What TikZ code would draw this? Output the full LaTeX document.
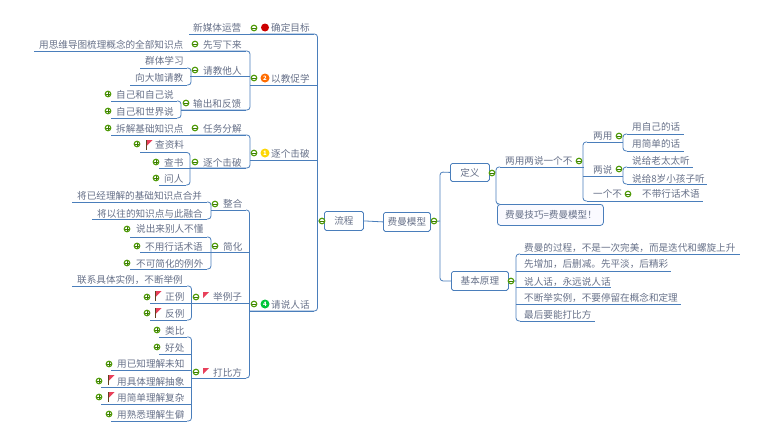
\documentclass[tikz,border=0pt]{standalone}
\usepackage{fontspec}
\setmainfont{Noto Sans CJK SC}
\definecolor{ln}{HTML}{4A7EBB}
\definecolor{tx}{HTML}{667088}
\definecolor{cg}{HTML}{4E9A06}
\definecolor{fl}{HTML}{E8405A}
\tikzset{
  conn/.style={draw=ln,line width=0.8pt,rounded corners=3pt},
  tlabel/.style={text=tx,font=\fontsize{9.6}{11}\selectfont,inner sep=0pt,anchor=west,yshift=-0.5pt},
  tbox/.style={draw=ln,line width=0.8pt,rounded corners=1.8pt,text=tx,font=\fontsize{9.6}{11}\selectfont,inner sep=0pt,anchor=north west},
  foldc/.style={circle,draw=cg,line width=1.1pt,fill=white,minimum size=5.6pt,inner sep=0pt},
  pri/.style={circle,minimum size=9pt,inner sep=0pt,text=white,font=\fontsize{6}{6}\selectfont\bfseries},
}
\newcommand{\tp}[7]{% name, text x, text y, underline y, left x, right x, text
  \node[tlabel] (#1) at (#2,#3) {#7};%
  \coordinate (#1-a) at (#5,#4);\coordinate (#1-b) at (#6,#4);%
  \draw[draw=ln,line width=0.8pt] (#1-a) -- (#1-b);}
\newcommand{\fmin}[2]{\node[foldc] (m#1x#2) at (#1,#2) {};\draw[cg!80!black,line width=1pt] (#1-2,#2) -- (#1+2,#2);}
\newcommand{\fplus}[2]{\node[foldc] (p#1x#2) at (#1,#2) {};\draw[cg!80!black,line width=1pt] (#1-2,#2) -- (#1+2,#2) (#1,#2-2) -- (#1,#2+2);}
\newcommand{\flagi}[2]{\fill[fl] (#1-1.5,#2-5) -- (#1+4.5,#2-5) -- (#1-1.5,#2+1) -- cycle;\draw[brown!50!black,line width=0.8pt] (#1-2,#2-5) -- (#1-2,#2+4.5);}
\newcommand{\flagm}[2]{\fill[fl] (#1-3,#2-4) -- (#1+3,#2-4) -- (#1-3,#2+2) -- cycle;}
\begin{document}
\begin{tikzpicture}[x=1pt,y=-1pt]
\useasboundingbox (0,0) rectangle (760,442);
% ---- trunks
\tp{mb}{271}{27}{34}{250}{314}{确定目标}
\tp{jx}{271}{78}{85}{250}{314}{以教促学}
\tp{zg}{271}{153}{160.5}{250}{314}{逐个击破}
\tp{sr}{271}{304}{311}{250}{314}{请说人话}
\draw[conn] (mb-a) -- (317.5,34) -- (317.5,311) -- (sr-a);
\draw[conn] (jx-b) -- (317.5,85);
\draw[conn] (zg-b) -- (317.5,160.5);
% ---- centre
\node[tbox,minimum width=39pt,minimum height=19pt] (lc) at (324,211) {流程};
\node[tbox,minimum width=47pt,minimum height=19pt] (fm) at (383,212) {费曼模型};
\coordinate (lcj) at (317.5,221);
\draw[conn] (lcj) -- (lc.west);
\draw[conn] (lc.east) -- (fm.west);
% ---- 确定目标 left
\tp{xm}{193}{27}{34}{189}{250}{新媒体运营}
% ---- 以教促学
\tp{xx}{203}{44}{51}{190}{246}{先写下来}
\tp{qj}{203}{70}{76.5}{190}{246}{请教他人}
\tp{sc}{193}{103}{110}{181}{246}{输出和反馈}
\draw[conn] (xx-a) -- (250,51) -- (250,110) -- (sc-a);
\draw[conn] (qj-a) -- (250,76.5);
\draw[conn] (jx-a) -- (250,85);
\tp{yy}{39}{44}{51}{34}{190}{用思维导图梳理概念的全部知识点}
\tp{qt}{145}{60}{68}{140}{187}{群体学习}
\tp{xd}{135}{77}{85}{130}{187}{向大咖请教}
\draw[conn] (qt-b) -- (191,68) -- (191,85) -- (xd-b);
\draw[conn] (qj-a) -- (191,76.5);
\tp{zz}{116}{94}{101}{111}{177}{自己和自己说}
\tp{zs}{116}{111}{118}{111}{177}{自己和世界说}
\draw[conn] (zz-b) -- (181,101) -- (181,118) -- (zs-b);
% ---- 逐个击破
\tp{rw}{203}{128}{135}{190}{246}{任务分解}
\tp{zb}{203}{162}{168}{190}{246}{逐个击破}
\draw[conn] (rw-a) -- (250,135) -- (250,168) -- (zb-a);
\draw[conn] (zg-a) -- (250,160.5);
\tp{cj}{116}{128}{135}{111}{190}{拆解基础知识点}
\tp{cz}{155}{144}{152.5}{140}{186}{查资料}
\tp{cs}{164}{162}{168}{159}{190}{查书}
\tp{wr}{164}{178}{185}{159}{186}{问人}
\draw[conn] (cz-b) -- (190,152.5) -- (190,185) -- (wr-b);
% ---- 请说人话
\tp{zh}{223}{203}{210}{211}{246}{整合}
\tp{jh}{223}{246}{252}{211}{246}{简化}
\tp{jl}{213}{296}{303}{191}{246}{举例子}
\tp{db}{213}{372}{378}{191}{246}{打比方}
\draw[conn] (zh-b) -- (249.5,210) -- (249.5,378) -- (db-b);
\draw[conn] (jh-b) -- (249.5,252);
\draw[conn] (jl-b) -- (249.5,303);
\draw[conn] (sr-a) -- (249.5,311);
\tp{jy}{77}{195}{202}{72}{207}{将已经理解的基础知识点合并}
\tp{jw}{97}{213}{219}{92}{207}{将以往的知识点与此融合}
\draw[conn] (jy-b) -- (211,202) -- (211,219) -- (jw-b);
\tp{sl}{136}{228}{237}{130}{207}{说出来别人不懂}
\tp{by}{145}{246}{252}{140}{211}{不用行话术语}
\tp{bk}{136}{263}{269}{130}{207}{不可简化的例外}
\draw[conn] (sl-b) -- (211,237) -- (211,269) -- (bk-b);
\tp{lx}{77}{279}{286}{72}{187}{联系具体实例，不断举例}
\tp{zl}{165}{296}{303}{150}{191}{正例}
\tp{fl2}{165}{313}{320}{150}{187}{反例}
\draw[conn] (lx-b) -- (191.5,286) -- (191.5,320) -- (fl2-b);
\tp{lb}{165}{330}{337}{159}{187}{类比}
\tp{hc}{165}{347}{354}{159}{191}{好处}
\tp{yw}{117}{363}{370}{111}{191}{用已知理解未知}
\tp{yc}{117}{381}{387}{101}{191}{用具体理解抽象}
\tp{yf}{117}{397}{404}{101}{191}{用简单理解复杂}
\tp{ys}{117}{414}{421}{111}{187}{用熟悉理解生僻}
\draw[conn] (lb-b) -- (191.5,337) -- (191.5,421) -- (ys-b);
% ---- right side
\node[tbox,minimum width=39pt,minimum height=18pt] (dy) at (450,163) {定义};
\node[tbox,minimum width=57pt,minimum height=19pt] (jb) at (451,271) {基本原理};
\draw[conn] (fm.east) -- (440,221);
\draw[conn] (dy.west) -- (440,172) -- (440,281) -- (jb.west);
\tp{ly}{505}{160}{167}{500}{584}{两用两说一个不}
\node[draw=ln,line width=0.8pt,fill=blue!2,rounded corners=3pt,minimum width=106pt,minimum height=21pt,inner sep=0pt,anchor=north west] (jq) at (497,204) {};
\node[tlabel] (jqt) at (505,214) {费曼技巧=费曼模型！};
\draw[conn] (dy.east) -- (496,172);
\draw[conn] (ly-a) -- (496,167) -- (496,204) -- (jq.north west);
\tp{lu}{593}{136}{142}{587}{623}{两用}
\tp{ls}{593}{169}{176}{587}{623}{两说}
\tp{yg}{593}{193}{201}{587}{633}{一个不}
\draw[conn] (lu-a) -- (583,142) -- (583,201) -- (yg-a);
\draw[conn] (ls-a) -- (583,176);
\tp{yz}{632}{126}{134}{627}{684}{用自己的话}
\tp{yj}{632}{143}{151}{627}{684}{用简单的话}
\draw[conn] (yz-a) -- (623,134) -- (623,151) -- (yj-a);
\tp{sg}{632}{160}{167}{627}{693}{说给老太太听}
\tp{sb}{632}{178}{184}{627}{707}{说给8岁小孩子听}
\draw[conn] (sg-a) -- (623,167) -- (623,184) -- (sb-a);
\tp{bd}{642}{193}{201}{633}{703}{不带行话术语}
\tp{a1}{524}{247}{254}{520}{740}{费曼的过程，不是一次完美，而是迭代和螺旋上升}
\tp{a2}{524}{263}{271}{516}{671}{先增加，后删减。先平淡，后精彩}
\tp{a3}{524}{281}{287}{516}{611}{说人话，永远说人话}
\tp{a4}{524}{297}{304}{516}{681}{不断举实例，不要停留在概念和定理}
\tp{a5}{524}{314}{321}{520}{595}{最后要能打比方}
\draw[conn] (a1-a) -- (516,254) -- (516,321) -- (a5-a);
\draw[conn] (jb.east) -- (516,281);
% ---- fold markers
\fmin{254}{28}\fmin{254}{78}\fmin{254}{153}\fmin{254}{304}
\fmin{195}{44}\fmin{195}{70}\fmin{186}{103}\fmin{195}{128}\fmin{195}{162}
\fmin{215}{204}\fmin{215}{246}\fmin{196}{297}\fmin{196}{372}
\fmin{322}{221}\fmin{434}{221}\fmin{492}{173}\fmin{511}{281}\fmin{579}{161}\fmin{619}{136}\fmin{619}{169}\fmin{628}{194}
\fplus{108}{94}\fplus{108}{111}\fplus{108}{128}\fplus{137}{144}\fplus{156}{162}\fplus{156}{178}
\fplus{127}{229}\fplus{137}{246}\fplus{127}{263}\fplus{147}{297}\fplus{147}{313}\fplus{157}{330}\fplus{157}{347}
\fplus{109}{364}\fplus{99}{381}\fplus{99}{397}\fplus{109}{414}
% ---- icons
\fill[red!80!black] (265,27.5) circle (4pt);
\node[pri,fill=orange!85!red] (i2) at (265,78) {2};
\node[pri,fill=yellow!75!orange] (i1) at (265,153) {1};
\node[pri,fill=green!55!teal] (i4) at (265,304) {4};
\flagi{148}{145}\flagi{157}{296}\flagi{157}{313}\flagi{110}{380}\flagi{110}{397}
\flagm{206}{296}\flagm{206}{372}
\end{tikzpicture}
\end{document}
